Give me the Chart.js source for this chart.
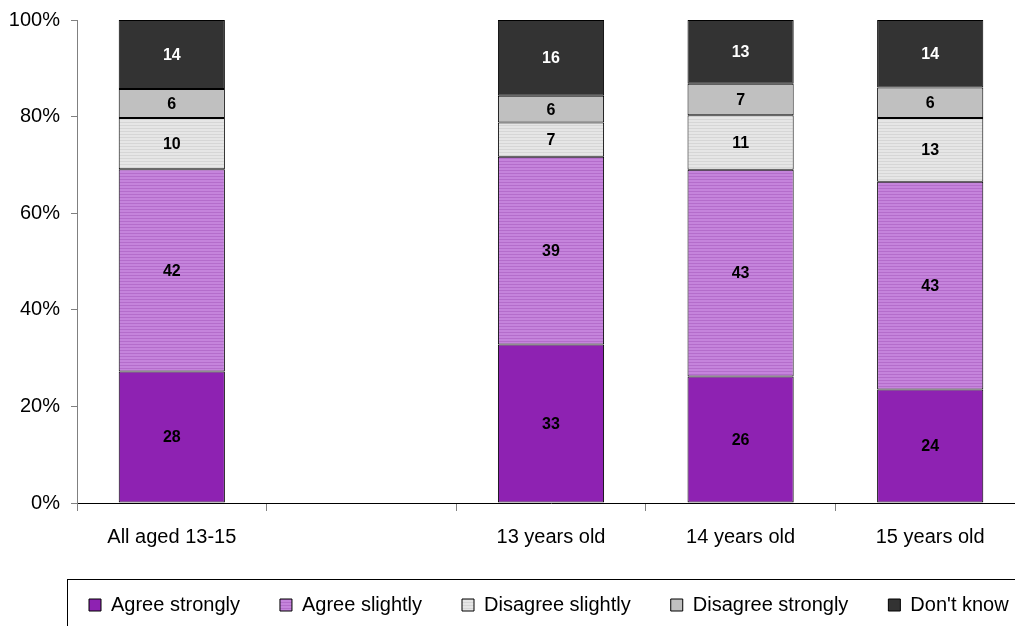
<!DOCTYPE html>
<html>
<head>
<meta charset="utf-8">
<script src="https://cdn.jsdelivr.net/npm/chart.js@4/dist/chart.umd.min.js"></script>
<style>
html,body{margin:0;padding:0;overflow:hidden;background:#fff;}
canvas{display:block;}
</style>
</head>
<body>
<canvas id="c" width="1100" height="660" style="width:1100px;height:660px"></canvas>
<script>
// ---- data ----
const categories = ['All aged 13-15', '', '13 years old', '14 years old', '15 years old'];
const seriesNames = ['Agree strongly', 'Agree slightly', 'Disagree slightly', 'Disagree strongly', "Don't know"];
// bar segment heights (% of respondents)
const agreeStrongly     = [27.2, null, 32.8, 26.2, 23.5];
const agreeSlightly     = [41.9, null, 38.9, 42.8, 43.0];
const disagreeSlightly  = [10.6, null, 7.1, 11.3, 13.2];
const disagreeStrongly  = [6.0, null, 5.5, 6.5, 6.3];
const dontKnow          = [14.3, null, 15.7, 13.2, 14.0];
// printed labels on the segments
const agreeStronglyLbl    = ['28', null, '33', '26', '24'];
const agreeSlightlyLbl    = ['42', null, '39', '43', '43'];
const disagreeSlightlyLbl = ['10', null, '7', '11', '13'];
const disagreeStronglyLbl = ['6', null, '6', '7', '6'];
const dontKnowLbl         = ['14', null, '16', '13', '14'];
const yTicks = [0, 20, 40, 60, 80, 100];

// ---- styles ----
const FONT = "'Liberation Sans', Arial, Helvetica, sans-serif";
function stripes(base, line) {
  const c = document.createElement('canvas');
  c.width = 4; c.height = 3;
  const g = c.getContext('2d');
  g.fillStyle = base; g.fillRect(0, 0, 4, 3);
  g.fillStyle = line; g.fillRect(0, 2, 4, 1);
  return g.createPattern(c, 'repeat');
}
const ctx = document.getElementById('c').getContext('2d');
const colors = [
  '#8E22B2',
  stripes('#C584DC', '#B46DCB'),
  stripes('#E6E6E6', '#D6D6D6'),
  '#C0C0C0',
  '#333333'
];
const labelColors = ['#000', '#000', '#000', '#000', '#fff'];
const values = [agreeStrongly, agreeSlightly, disagreeSlightly, disagreeStrongly, dontKnow];
const lbls = [agreeStronglyLbl, agreeSlightlyLbl, disagreeSlightlyLbl, disagreeStronglyLbl, dontKnowLbl];

const datasets = seriesNames.map((n, i) => ({
  label: n,
  data: values[i],
  valueLabels: lbls[i],
  labelColor: labelColors[i],
  backgroundColor: colors[i],
  borderColor: '#000',
  borderWidth: 1,
  borderSkipped: false,
  barPercentage: 0.56,
  categoryPercentage: 1.0
}));

const segmentLabels = {
  id: 'segmentLabels',
  afterDatasetsDraw(chart) {
    const c = chart.ctx;
    c.save();
    c.font = 'bold 16px ' + FONT;
    c.textAlign = 'center';
    c.textBaseline = 'middle';
    chart.data.datasets.forEach((ds, i) => {
      const meta = chart.getDatasetMeta(i);
      meta.data.forEach((bar, j) => {
        const t = ds.valueLabels[j];
        if (t == null) return;
        const p = bar.getProps(['x', 'y', 'base'], true);
        c.fillStyle = ds.labelColor;
        c.fillText(t, p.x, (p.y + p.base) / 2 + 1);
      });
    });
    c.restore();
  }
};

const legendPlace = {
  id: 'legendPlace',
  afterLayout(chart) {
    if (chart.legend) chart.legend.left = 49;
  },
  afterDraw(chart) {
    const c = chart.ctx;
    c.save();
    c.strokeStyle = '#000';
    c.lineWidth = 1;
    c.strokeRect(67.5, 579.5, 1100, 200);
    c.restore();
  }
};

new Chart(ctx, {
  type: 'bar',
  data: { labels: categories, datasets },
  plugins: [segmentLabels, legendPlace],
  options: {
    responsive: false,
    devicePixelRatio: 1,
    animation: false,
    layout: { padding: { left: 0, top: 20, right: 0, bottom: 35 } },
    plugins: {
      legend: {
        display: true,
        position: 'bottom',
        align: 'start',
        labels: {
          boxWidth: 12,
          boxHeight: 12,
          padding: 40,
          color: '#000',
          font: { family: FONT, size: 20 }
        }
      },
      tooltip: { enabled: false }
    },
    scales: {
      x: {
        stacked: true,
        grid: { display: true, drawOnChartArea: false, drawTicks: true, tickLength: 8, color: '#808080', offset: true },
        border: { display: true, color: '#000', width: 1 },
        ticks: { color: '#000', padding: 14, maxRotation: 0, autoSkip: false, font: { family: FONT, size: 20 } },
        afterFit(s) { s.height = 52; }
      },
      y: {
        stacked: true,
        min: 0,
        max: 100,
        afterBuildTicks(s) { s.ticks = yTicks.map(v => ({ value: v })); },
        grid: { display: true, drawOnChartArea: false, drawTicks: true, tickLength: 6, color: '#808080' },
        border: { display: true, color: '#808080', width: 1 },
        ticks: { color: '#000', padding: 11, font: { family: FONT, size: 20 }, callback: v => v + '%' },
        afterFit(s) { s.width = 77; s.paddingTop = 0; s.paddingBottom = 0; }
      },
      yR: {
        position: 'right',
        display: true,
        grid: { display: false },
        border: { display: false },
        ticks: { display: false },
        afterFit(s) { s.width = 75; s.paddingTop = 0; s.paddingBottom = 0; }
      }
    }
  }
});
</script>
</body>
</html>
